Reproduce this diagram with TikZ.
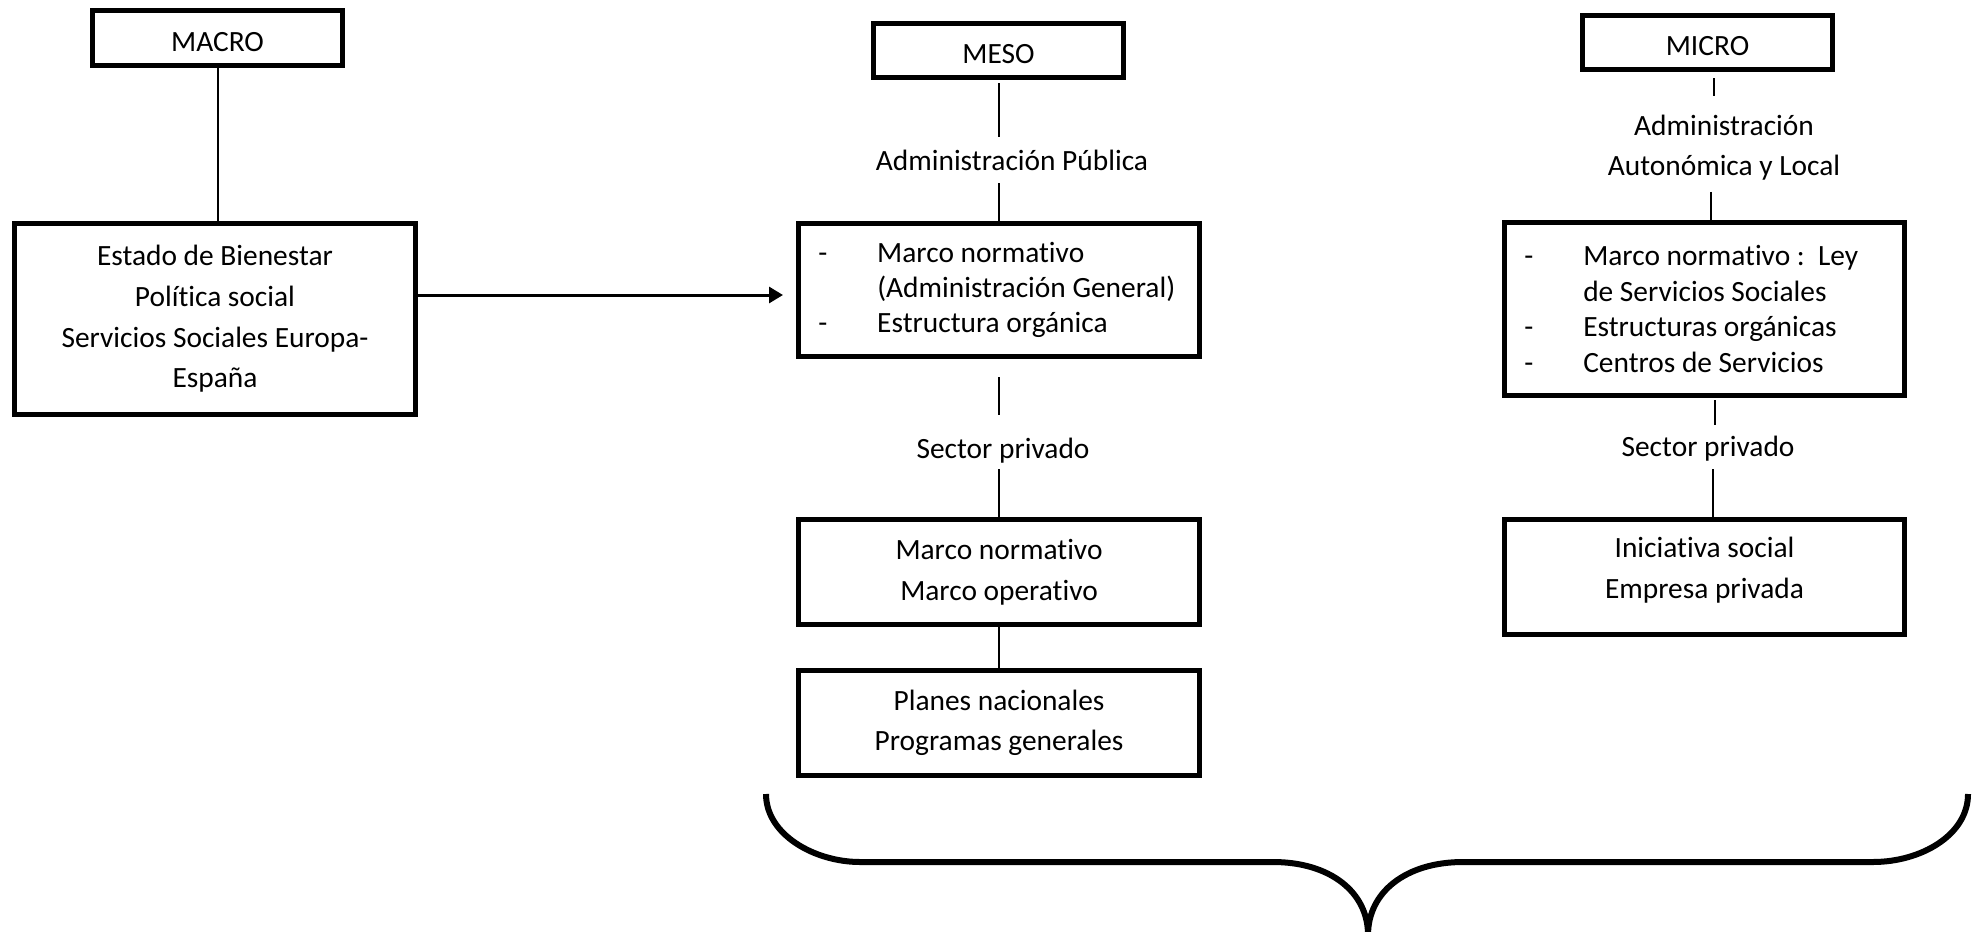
\documentclass[tikz,border=0pt]{standalone}
\usepackage{fontspec}
\setmainfont{Carlito}[Ligatures=CommonOff]
\usetikzlibrary{arrows.meta}
\begin{document}
\begin{tikzpicture}[x=0.5pt,y=-0.5pt,
  box/.style={draw, line width=2.4pt, inner sep=0pt, align=center, font=\fontsize{14.7}{20.3}\selectfont},
  topbox/.style={box, minimum width=125.25pt, text height=13.5pt, text depth=0pt},
  listbox/.style={draw, line width=2.4pt, inner xsep=10pt, inner ysep=0pt, align=flush left, font=\fontsize{14.7}{17.7}\selectfont},
  lbl/.style={inner sep=0pt, align=center, font=\fontsize{14.7}{20}\selectfont},
  lbl1/.style={lbl, text height=14pt, text depth=4pt},
  conn/.style={line width=1pt},
  arr/.style={line width=1.5pt, -{Triangle[length=7pt,width=8pt]}},
  bracestyle/.style={line width=3pt, line join=round},
]
\useasboundingbox (0,0) rectangle (1973,931);

% MACRO column
\node[topbox, minimum height=27.5pt] (macro) at (217.5,38) {MACRO};
\node[box, minimum width=200.75pt, minimum height=95.75pt] (estado) at (215,319)
  {Estado de Bienestar\\Política social\\Servicios Sociales Europa-\\España};
\draw[conn] (macro.south) -- (macro.south |- estado.north);

% MESO column
\node[topbox, minimum height=27.25pt] (meso) at (998.5,50.5) {MESO};
\node[lbl1] (admP) at (1012,160) {Administración Pública};
\node[listbox, text width=180.75pt, minimum height=66.75pt] (mesoA) at (999,290)
  {\makebox[29.5pt][l]{-}Marco normativo\\\hspace*{29.5pt}(Administración General)\\\makebox[29.5pt][l]{-}Estructura orgánica};
\node[lbl1] (secP) at (1003,448) {Sector privado};
\node[box, minimum width=200.75pt, minimum height=52.75pt] (mesoB) at (999,572)
  {Marco normativo\\Marco operativo};
\node[box, minimum width=200.75pt, minimum height=52.75pt] (mesoC) at (999,723)
  {Planes nacionales\\Programas generales};

\draw[conn, shorten <=1.5pt, shorten >=2.5pt] (meso.south) -- (meso.south |- admP.north);
\draw[conn, shorten <=2.5pt] (mesoA.north |- admP.south) -- (mesoA.north);
\draw[conn, shorten <=9pt, shorten >=7.5pt] (mesoA.south) -- (mesoA.south |- secP.north);
\draw[conn, shorten <=1.5pt] (mesoB.north |- secP.south) -- (mesoB.north);
\draw[conn] (mesoB.south) -- (mesoC.north);

% arrow
\coordinate (arrEnd) at (783,295);
\draw[arr] ([yshift=12pt]estado.east) -- (arrEnd);

% MICRO column
\node[topbox, minimum height=27.25pt] (micro) at (1707.5,42.5) {MICRO};
\node[lbl] (admAL) at (1724,148) {Administración\\Autonómica y Local};
\node[listbox, text width=180.25pt, minimum height=86.75pt] (microA) at (1704.5,309)
  {\makebox[29.5pt][l]{-}Marco normativo :~~Ley\\\hspace*{29.5pt}de Servicios Sociales\\\makebox[29.5pt][l]{-}Estructuras orgánicas\\\makebox[29.5pt][l]{-}Centros de Servicios};
\node[lbl1] (secP2) at (1708,446) {Sector privado};
\node[box, minimum width=200.25pt, minimum height=57.75pt] (microB) at (1704.5,577)
  {Iniciativa social\\Empresa privada\\[-11pt]\mbox{}};

\draw[conn, shorten <=3pt, shorten >=9.5pt] ([xshift=3pt]micro.south) -- ([xshift=3pt]micro.south |- admAL.north);
\draw[conn, shorten <=5.5pt] ([xshift=3pt]microA.north |- admAL.south) -- ([xshift=3pt]microA.north);
\draw[conn, shorten <=1pt, shorten >=1.5pt] ([xshift=5pt]microA.south) -- ([xshift=5pt]microA.south |- secP2.north);
\draw[conn, shorten <=2.5pt] ([xshift=4pt]microB.north |- secP2.south) -- ([xshift=4pt]microB.north);

% brace
\draw[bracestyle] (766,794) .. controls (766,835) and (815,862) .. (860,862)
  -- (1273,862) .. controls (1330,862) and (1368,892) .. (1368,935)
  .. controls (1368,892) and (1406,862) .. (1463,862)
  -- (1873,862) .. controls (1921,862) and (1968,835) .. (1968,794);
\end{tikzpicture}
\end{document}
